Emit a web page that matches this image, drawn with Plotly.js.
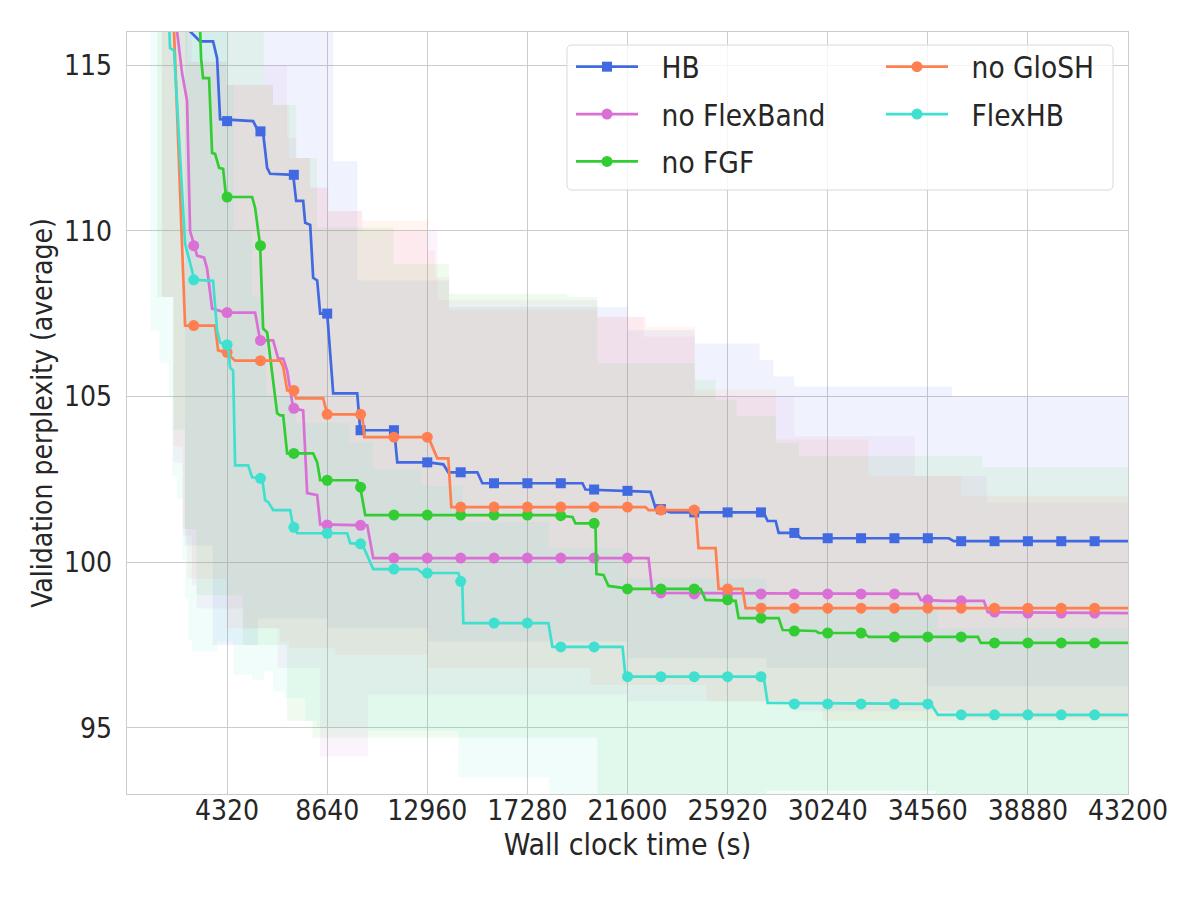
<!DOCTYPE html>
<html>
<head>
<meta charset="utf-8">
<script src="https://cdn.plot.ly/plotly-3.0.1.min.js"></script>
<style>
  html, body { margin: 0; padding: 0; background: #fff; }
  #chart { width: 1200px; height: 900px; }
</style>
</head>
<body>
<div id="chart"></div>
<script>
'use strict';

// ---- data ----
const xTicks = [4320, 8640, 12960, 17280, 21600, 25920, 30240, 34560, 38880, 43200];
const xTickLabels = ['4320', '8640', '12960', '17280', '21600', '25920', '30240', '34560', '38880', '43200'];
const yTicks = [95, 100, 105, 110, 115];

// marker times (every 1440 s)
const markTimes = [2880, 4320, 5760, 7200, 8640, 10080, 11520, 12960, 14400, 15840, 17280, 18720, 20160, 21600,
  23040, 24480, 25920, 27360, 28800, 30240, 31680, 33120, 34560, 36000, 37440, 38880, 40320, 41760];

// HB
const hbX = [2500, 2722, 3154, 3715, 3888, 4018, 5443, 5616, 5875, 6048, 6178, 7171, 7301, 7603, 7690, 7906, 8035, 8208,
  8338, 8640, 8899, 9936, 10066, 11534, 11664, 13003, 13651, 13867, 15120, 15336, 19656, 19786, 22594, 22810, 23155,
  23458, 27475, 27648, 27994, 28123, 28858, 29074, 35467, 35683, 43200];
const hbY = [118, 116.02, 115.72, 115.72, 115.21, 113.37, 113.31, 113.07, 112.95, 111.9, 111.72, 111.69, 110.9, 110.9,
  110.24, 110.18, 108.58, 108.5, 107.5, 107.5, 105.09, 105.09, 103.98, 103.98, 103.01, 103.01, 102.95, 102.71, 102.71,
  102.38, 102.38, 102.19, 102.12, 101.63, 101.57, 101.5, 101.5, 101.24, 101.24, 100.88, 100.88, 100.72, 100.72,
  100.63, 100.63];
const hbMarks = [null, 113.31, 113.0, 111.69, 107.5, 103.98, 103.98, 103.01, 102.71, 102.38, 102.38, 102.38, 102.19,
  102.15, 101.6, 101.5, 101.5, 101.5, 100.88, 100.72, 100.72, 100.72, 100.72, 100.63, 100.63, 100.63, 100.63, 100.63];
const hbBandX = [2500, 3700, 5650, 8640, 8900, 9940, 13000, 13900, 21600, 24500, 27300, 27600, 27900, 28800, 34500,
  35600, 43200];
const hbHi = [125, 125, 125, 125, 112.1, 108.5, 108.5, 107.7, 107.0, 106.6, 106.1, 106.1, 105.6, 105.3, 105.3, 105.0,
  105.0];
const hbLo = [100.5, 97.5, 98.3, 98.0, 98.0, 98.0, 97.6, 97.6, 97.1, 97.1, 97.1, 96.8, 96.8, 96.8, 96.25, 96.25, 96.25];

// no FlexBand
const fbX = [2074, 2160, 2376, 2592, 2722, 2894, 3024, 3326, 3456, 3672, 4277, 5530, 5746, 6307, 6523, 6739, 6912,
  7171, 7603, 7776, 8208, 8338, 10368, 10627, 22507, 22680, 34128, 34258, 35251, 36979, 37152, 43200];
const fbY = [117, 116.02, 114.76, 113.92, 110.0, 109.55, 109.25, 109.19, 108.86, 107.65, 107.53, 107.53, 106.69,
  106.69, 106.14, 106.14, 105.78, 104.64, 104.58, 102.08, 102.02, 101.14, 101.11, 100.12, 100.12, 99.07, 99.04, 98.86,
  98.83, 98.83, 98.49, 98.46];
const fbMarks = [109.55, 107.53, 106.69, 104.64, 101.12, 101.11, 100.12, 100.12, 100.12, 100.12, 100.12, 100.12,
  100.12, 100.12, 99.07, 99.04, 99.04, 99.04, 99.04, 99.04, 99.04, 99.04, 98.86, 98.83, 98.49, 98.46, 98.46, 98.46];
const fbBandX = [1500, 2000, 2400, 2800, 3000, 4300, 5000, 5900, 6500, 6900, 7300, 7900, 8340, 8700, 10150, 10400,
  13400, 20300, 21600, 22300, 24500, 28800, 34000, 36000, 37100, 43200];
const fbHi = [125, 125, 125, 115.1, 115.1, 114.4, 114.4, 115.0, 115.0, 112.8, 112.2, 111.3, 111.3, 110.6, 110.0,
  110.0, 107.9, 107.4, 107.4, 106.8, 105.0, 103.8, 102.6, 102.6, 101.8, 101.8];
const fbLo = [108, 103, 100.8, 99.3, 98.6, 98.6, 98.0, 98.0, 96.8, 96.8, 96.8, 96.8, 94.13, 94.13, 94.13, 96.0, 96.0,
  96.0, 95.8, 95.8, 95.8, 95.5, 95.5, 95.3, 95.3, 95.3];

// no FGF
const fgX = [3110, 3154, 3197, 3283, 3542, 3672, 3802, 3974, 4147, 4277, 5400, 5530, 5746, 5875, 6048, 6480, 6610,
  6739, 6912, 8035, 8208, 8338, 9936, 10066, 10282, 18403, 19224, 19354, 20218, 20261, 20563, 20779, 21686, 24754,
  24970, 26266, 26395, 28123, 28296, 29722, 29851, 31795, 32011, 36720, 36850, 43200];
const fgY = [117, 116.02, 115.21, 114.61, 114.61, 112.35, 112.32, 111.9, 111.87, 111.02, 111.02, 110.69, 109.55,
  107.05, 106.93, 104.49, 104.43, 104.43, 103.28, 103.28, 103.01, 102.47, 102.47, 102.26, 101.42, 101.42, 101.36,
  101.17, 101.17, 99.64, 99.61, 99.28, 99.19, 99.19, 98.86, 98.83, 98.31, 98.31, 97.95, 97.92, 97.86, 97.86, 97.74,
  97.74, 97.56, 97.56];
const fgMarks = [null, 111.02, 109.55, 103.28, 102.47, 102.26, 101.42, 101.42, 101.42, 101.42, 101.42, 101.4, 101.17,
  99.19, 99.19, 99.19, 98.86, 98.31, 97.92, 97.86, 97.86, 97.74, 97.74, 97.74, 97.56, 97.56, 97.56, 97.56];
const fgBandX = [1300, 2000, 2500, 3000, 5000, 5900, 6300, 6900, 7300, 8000, 8200, 8700, 11500, 13900, 19000, 20300,
  24500, 25400, 26300, 27600, 28000, 29000, 34900, 36900, 43200];
const fgHi = [125, 125, 125, 125, 125, 114.4, 113.8, 113.8, 112.2, 112.2, 110.1, 110.1, 109.0, 108.1, 108.0, 106.0,
  105.5, 104.9, 104.4, 104.4, 103.6, 103.2, 103.2, 102.86, 102.86];
const fgLo = [108, 104, 101, 99, 97.5, 97.5, 97.5, 95.2, 95.2, 94.7, 94.7, 94.7, 94.7, 94.7, 94.7, 92.5, 92.5, 92.5,
  92.5, 93.1, 93.1, 93.1, 92.5, 92.5, 92.5];

// no GloSH
const gsX = [1858, 2030, 2506, 3802, 3931, 4277, 4666, 6610, 6739, 6912, 7171, 7301, 8467, 8640, 10152, 10238, 13003,
  13219, 13392, 13867, 13997, 22378, 22507, 24538, 24667, 25402, 25531, 26568, 26698, 43200];
const gsY = [117, 116.02, 107.14, 107.14, 106.39, 106.33, 106.08, 106.08, 105.9, 105.18, 105.18, 104.94, 104.94,
  104.46, 104.46, 103.77, 103.77, 103.43, 103.13, 103.13, 101.66, 101.66, 101.57, 101.57, 100.42, 100.42, 99.19, 99.19,
  98.61, 98.61];
const gsMarks = [107.14, 106.33, 106.08, 105.18, 104.46, 104.46, 103.77, 103.77, 101.66, 101.66, 101.66, 101.66,
  101.66, 101.66, 101.57, 101.57, 99.19, 98.61, 98.61, 98.61, 98.61, 98.61, 98.61, 98.61, 98.61, 98.61, 98.61, 98.61];
const gsBandX = [1500, 2000, 2400, 2600, 4300, 6300, 6600, 7000, 7300, 7900, 8640, 9000, 10150, 12960, 13000, 13300,
  13900, 20000, 20300, 22400, 24500, 25000, 28000, 30000, 32000, 36000, 43200];
const gsHi = [125, 125, 125, 115.1, 114.4, 113.8, 113.8, 112.2, 112.2, 111.3, 110.6, 110.6, 110.3, 109.4, 109.4,
  108.6, 107.6, 107.6, 107.4, 107.1, 105.2, 105.2, 103.7, 103.7, 102.6, 102.0, 102.0];
const gsLo = [108, 103.5, 101, 99.5, 98.0, 98.0, 97.6, 97.4, 97.4, 97.4, 97.4, 97.2, 97.2, 97.2, 96.8, 96.8, 96.8,
  96.3, 96.3, 96.3, 96.3, 95.8, 95.8, 95.2, 95.2, 95.2, 95.2];

// FlexHB
const fhX = [1771, 1814, 1858, 2030, 2506, 2808, 2894, 3715, 3888, 4018, 4363, 4450, 4579, 4666, 5227, 5400, 5832,
  5962, 6091, 6307, 7042, 7171, 7344, 9504, 9634, 10152, 10368, 10627, 12528, 12744, 14299, 14472, 14515, 18187, 18360,
  21384, 21514, 27475, 27648, 34690, 34992, 43200];
const fhY = [117, 116.02, 115.51, 115.45, 109.61, 108.8, 108.52, 108.49, 106.99, 106.63, 106.54, 105.87, 105.78,
  102.92, 102.92, 102.56, 102.53, 101.87, 101.81, 101.57, 101.57, 101.05, 100.87, 100.87, 100.57, 100.54, 100.18, 99.79,
  99.79, 99.67, 99.67, 99.25, 98.16, 98.16, 97.44, 97.44, 96.54, 96.54, 95.75, 95.72, 95.39, 95.39];
const fhMarks = [108.52, 106.56, 102.53, 101.05, 100.87, 100.55, 99.79, 99.67, 99.42, 98.16, 98.16, 97.44, 97.44,
  96.54, 96.54, 96.54, 96.54, 96.54, 95.72, 95.72, 95.72, 95.72, 95.72, 95.39, 95.39, 95.39, 95.39, 95.39];
const fhBandX = [1000, 1400, 1800, 1950, 2150, 2400, 2500, 2650, 2800, 3900, 4300, 4600, 5400, 5900, 6000, 6300, 6800,
  7300, 7700, 8200, 9600, 10400, 10600, 12700, 14300, 14500, 18200, 21500, 27600, 35000, 43200];
const fhHi = [125, 125, 125, 125, 125, 125, 125, 125, 125, 125, 114.4, 110, 108.0, 107.0, 105.0, 105.0, 105.0, 104.2,
  104.2, 104.2, 103.6, 103.6, 102.8, 102.3, 102.3, 101.2, 100.4, 99.5, 98.6, 98.0, 98.0];
const fhLo = [107, 106, 105, 102.6, 101.9, 100.1, 98.9, 97.65, 97.3, 97.6, 97.6, 96.6, 96.45, 96.7, 96.7, 96.1, 95.9,
  95.9, 95.2, 95.0, 95.0, 94.9, 94.9, 94.9, 93.5, 93.5, 92.5, 92.5, 92.5, 92.5, 92.5];

// ---- series definitions (plot order) ----
const series = [
  {name: 'HB', color: '65,105,225', symbol: 'square', size: 10, x: hbX, y: hbY, m: hbMarks,
    bx: hbBandX, hi: hbHi, lo: hbLo, legend: 'legend', rank: 1},
  {name: 'no FlexBand', color: '218,112,214', symbol: 'circle', size: 11, x: fbX, y: fbY, m: fbMarks,
    bx: fbBandX, hi: fbHi, lo: fbLo, legend: 'legend', rank: 2},
  {name: 'no FGF', color: '50,205,50', symbol: 'circle', size: 11, x: fgX, y: fgY, m: fgMarks,
    bx: fgBandX, hi: fgHi, lo: fgLo, legend: 'legend', rank: 3},
  {name: 'no GloSH', color: '255,127,80', symbol: 'circle', size: 11, x: gsX, y: gsY, m: gsMarks,
    bx: gsBandX, hi: gsHi, lo: gsLo, legend: 'legend2', rank: 1},
  {name: 'FlexHB', color: '64,224,208', symbol: 'circle', size: 11, x: fhX, y: fhY, m: fhMarks,
    bx: fhBandX, hi: fhHi, lo: fhLo, legend: 'legend2', rank: 2}
];

const traces = [];

// shaded bands first
series.forEach(function(s) {
  traces.push({
    x: s.bx, y: s.lo, type: 'scatter', mode: 'lines',
    line: {width: 0, shape: 'hv'}, showlegend: false, hoverinfo: 'skip'
  });
  traces.push({
    x: s.bx, y: s.hi, type: 'scatter', mode: 'lines', fill: 'tonexty',
    fillcolor: 'rgba(' + s.color + ',0.08)',
    line: {width: 0, shape: 'hv'}, showlegend: false, hoverinfo: 'skip'
  });
});

// lines and markers
series.forEach(function(s) {
  const c = 'rgb(' + s.color + ')';
  traces.push({
    x: s.x, y: s.y, type: 'scatter', mode: 'lines',
    line: {color: c, width: 2.7}, showlegend: false, hoverinfo: 'skip'
  });
  traces.push({
    x: markTimes, y: s.m, type: 'scatter', mode: 'markers',
    marker: {color: c, symbol: s.symbol, size: s.size}, showlegend: false, hoverinfo: 'skip'
  });
  // legend entry (small lead space = handle/text padding)
  traces.push({
    x: [null], y: [null], type: 'scatter', mode: 'lines+markers', name: '\u2002\u2009' + s.name,
    legend: s.legend, legendgroup: s.name, legendrank: s.rank,
    line: {color: c, width: 2.7},
    marker: {color: c, symbol: s.symbol, size: s.size}
  });
});

const font = 'DejaVu Sans Condensed, DejaVu Sans, sans-serif';
const ink = '#262626';
const grid = '#cccccc';

const legendStyle = {
  font: {family: font, size: 29.5, color: ink},
  bgcolor: 'rgba(0,0,0,0)',
  borderwidth: 0,
  itemwidth: 62,
  tracegroupgap: 6,
  xanchor: 'left', yanchor: 'top',
  itemclick: false, itemdoubleclick: false
};

// legend frame, rounded
const bx0 = (567 - 127) / 1001, bx1 = (1113 - 127) / 1001;
const by1 = 1 - (45 - 32) / 762, by0 = 1 - (190 - 32) / 762;
const rx = 5 / 1001, ry = 5 / 762;
const framePath = 'M' + (bx0 + rx) + ',' + by1 + ' L' + (bx1 - rx) + ',' + by1 +
  ' Q' + bx1 + ',' + by1 + ' ' + bx1 + ',' + (by1 - ry) + ' L' + bx1 + ',' + (by0 + ry) +
  ' Q' + bx1 + ',' + by0 + ' ' + (bx1 - rx) + ',' + by0 + ' L' + (bx0 + rx) + ',' + by0 +
  ' Q' + bx0 + ',' + by0 + ' ' + bx0 + ',' + (by0 + ry) + ' L' + bx0 + ',' + (by1 - ry) +
  ' Q' + bx0 + ',' + by1 + ' ' + (bx0 + rx) + ',' + by1 + ' Z';

const layout = {
  width: 1200,
  height: 900,
  margin: {l: 127, r: 72, t: 32, b: 106},
  paper_bgcolor: '#ffffff',
  plot_bgcolor: '#ffffff',
  font: {family: font, size: 28, color: ink},
  showlegend: true,
  xaxis: {
    range: [0, 43200],
    tickmode: 'array', tickvals: xTicks, ticktext: xTickLabels,
    ticks: '', ticklabelstandoff: -9,
    tickfont: {family: font, size: 28, color: ink},
    showgrid: true, gridcolor: grid, gridwidth: 1,
    zeroline: false, showline: true, mirror: true, linecolor: grid, linewidth: 1.25,
    title: {text: 'Wall clock time (s)', font: {family: font, size: 30, color: ink}, standoff: 4}
  },
  yaxis: {
    range: [93, 116],
    tickmode: 'array', tickvals: yTicks,
    ticks: 'outside', ticklen: 8, tickcolor: 'rgba(0,0,0,0)',
    tickfont: {family: font, size: 28, color: ink},
    showgrid: true, gridcolor: grid, gridwidth: 1,
    zeroline: false, showline: true, mirror: true, linecolor: grid, linewidth: 1.25,
    title: {text: 'Validation perplexity (average)', font: {family: font, size: 28, color: ink}, standoff: 3}
  },
  legend: Object.assign({x: (571 - 127) / 1001, y: 1 - (41 - 32) / 762}, legendStyle),
  legend2: Object.assign({x: (881 - 127) / 1001, y: 1 - (41 - 32) / 762}, legendStyle),
  shapes: [{
    type: 'path', xref: 'paper', yref: 'paper', path: framePath, layer: 'above',
    fillcolor: 'rgba(255,255,255,0.8)', line: {color: '#d9d9d9', width: 1}
  }]
};

Plotly.newPlot('chart', traces, layout, {staticPlot: true, displayModeBar: false});
</script>
</body>
</html>
